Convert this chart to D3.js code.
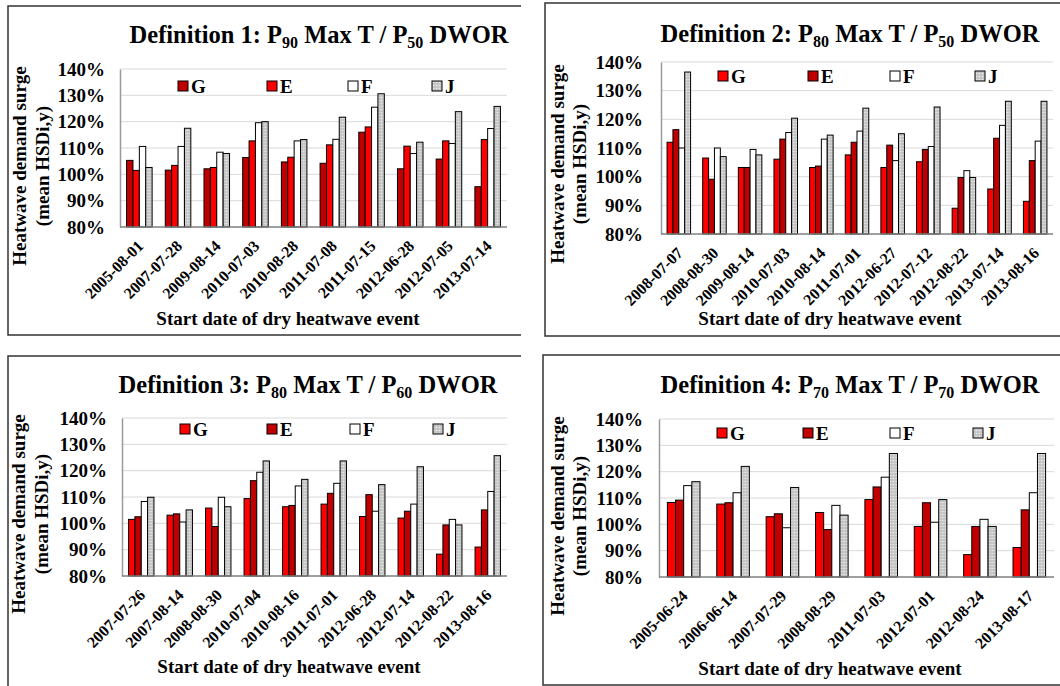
<!DOCTYPE html>
<html>
<meta charset="utf-8">
<style>
  body { margin: 0; background: #fff; }
  svg text { font-family: 'Liberation Serif', 'Times New Roman', Times, 'DejaVu Serif', serif !important; font-weight: bold; fill: #000; }
  .grid line { stroke: #d9d9d9; stroke-width: 1; }
  .bar { stroke: #000; stroke-width: 1; }
</style>
<body>
<script src="https://d3js.org/d3.v7.min.js"></script>
<script>
  // series shown in every panel
  const seriesNames = ["G", "E", "F", "J"];
  const yTicks = [0.8, 0.9, 1.0, 1.1, 1.2, 1.3, 1.4];

  // Definition 1
  const def1Dates = ["2005-08-01", "2007-07-28", "2009-08-14", "2010-07-03", "2010-08-28",
    "2011-07-08", "2011-07-15", "2012-06-28", "2012-07-05", "2013-07-14"];
  const def1G = [1.053, 1.016, 1.021, 1.064, 1.047, 1.042, 1.160, 1.021, 1.058, 0.953];
  const def1E = [1.015, 1.034, 1.026, 1.127, 1.065, 1.112, 1.180, 1.107, 1.127, 1.132];
  const def1F = [1.106, 1.106, 1.084, 1.196, 1.127, 1.133, 1.255, 1.079, 1.117, 1.174];
  const def1J = [1.026, 1.175, 1.079, 1.200, 1.132, 1.217, 1.306, 1.122, 1.238, 1.258];

  // Definition 2
  const def2Dates = ["2008-07-07", "2008-08-30", "2009-08-14", "2010-07-03", "2010-08-14",
    "2011-07-01", "2012-06-27", "2012-07-12", "2012-08-22", "2013-07-14", "2013-08-16"];
  const def2G = [1.120, 1.065, 1.032, 1.061, 1.032, 1.076, 1.032, 1.052, 0.890, 0.957, 0.914];
  const def2E = [1.164, 0.991, 1.032, 1.131, 1.037, 1.120, 1.110, 1.095, 0.997, 1.134, 1.056];
  const def2F = [1.100, 1.100, 1.095, 1.154, 1.131, 1.159, 1.056, 1.105, 1.021, 1.179, 1.124];
  const def2J = [1.365, 1.070, 1.076, 1.204, 1.145, 1.239, 1.150, 1.243, 0.997, 1.263, 1.263];

  // Definition 3
  const def3Dates = ["2007-07-26", "2007-08-14", "2008-08-30", "2010-07-04", "2010-08-16",
    "2011-07-01", "2012-06-28", "2012-07-14", "2012-08-22", "2013-08-16"];
  const def3G = [1.015, 1.031, 1.058, 1.094, 1.063, 1.073, 1.026, 1.020, 0.883, 0.910];
  const def3E = [1.025, 1.036, 0.988, 1.162, 1.068, 1.114, 1.109, 1.046, 0.994, 1.051];
  const def3F = [1.083, 1.005, 1.099, 1.194, 1.142, 1.152, 1.046, 1.073, 1.015, 1.121];
  const def3J = [1.099, 1.051, 1.063, 1.237, 1.167, 1.237, 1.147, 1.215, 0.994, 1.257];

  // Definition 4
  const def4Dates = ["2005-06-24", "2006-06-14", "2007-07-29", "2008-08-29", "2011-07-03",
    "2012-07-01", "2012-08-24", "2013-08-17"];
  const def4G = [1.083, 1.077, 1.029, 1.045, 1.094, 0.992, 0.885, 0.912];
  const def4E = [1.092, 1.082, 1.040, 0.980, 1.142, 1.082, 0.992, 1.055];
  const def4F = [1.147, 1.120, 0.987, 1.072, 1.179, 1.008, 1.019, 1.120];
  const def4J = [1.162, 1.220, 1.140, 1.035, 1.269, 1.094, 0.992, 1.269];

  const darkRed = "#c00000", red = "#ff0000";

  // layout of the four panels (pixel positions in the page)
  const panels = [
    { num: "1", p1: "90", p2: "50", dates: def1Dates, vals: [def1G, def1E, def1F, def1J],
      colors: [darkRed, red, "#fff", "url(#dots)"],
      frame: { l: 8, t: 6, r: 521, b: 335 }, plot: { l: 120, r: 507, t: 69, b: 227 },
      title: [319, 43], legendY: 86, legendX: [178, 267, 348, 432], tickRight: 105,
      yTitle: [19, 42, 166], xTitle: [288, 325] },
    { num: "2", p1: "80", p2: "50", dates: def2Dates, vals: [def2G, def2E, def2F, def2J],
      colors: [red, darkRed, "#fff", "url(#dots)"],
      frame: { l: 545, t: 3, r: 1062, b: 336 }, plot: { l: 661, r: 1053, t: 62, b: 234 },
      title: [850, 42], legendY: 76, legendX: [718, 808, 890, 975], tickRight: 643,
      yTitle: [557, 579, 164], xTitle: [830, 325] },
    { num: "3", p1: "80", p2: "60", dates: def3Dates, vals: [def3G, def3E, def3F, def3J],
      colors: [red, darkRed, "#fff", "url(#dots)"],
      frame: { l: 8, t: 356, r: 521, b: 690 }, plot: { l: 122, r: 507, t: 418, b: 576 },
      title: [308, 393], legendY: 429, legendX: [180, 267, 350, 433], tickRight: 107,
      yTitle: [18, 41, 514], xTitle: [289, 673] },
    { num: "4", p1: "70", p2: "70", dates: def4Dates, vals: [def4G, def4E, def4F, def4J],
      colors: [red, darkRed, "#fff", "url(#dots)"],
      frame: { l: 543, t: 355, r: 1062, b: 685 }, plot: { l: 659, r: 1054, t: 419, b: 577 },
      title: [850, 393], legendY: 433, legendX: [717, 803, 890, 973], tickRight: 643,
      yTitle: [557, 579, 516], xTitle: [830, 675] }
  ];

  const svg = d3.select("body").append("svg")
    .attr("width", 1060)
    .attr("height", 686);

  // dotted grey fill used by series J
  const pat = svg.append("defs").append("pattern")
    .attr("id", "dots")
    .attr("width", 3).attr("height", 3)
    .attr("patternUnits", "userSpaceOnUse");
  pat.append("rect").attr("width", 3).attr("height", 3).attr("fill", "#c4c4c4");
  pat.append("circle").attr("cx", 1.5).attr("cy", 1.5).attr("r", 0.8).attr("fill", "#eeeeee");

  panels.forEach(p => {
    const g = svg.append("g");

    // frame (right side is cut off in the original)
    g.append("path")
      .attr("d", `M${p.frame.r},${p.frame.t}H${p.frame.l}V${p.frame.b}H${p.frame.r}`)
      .attr("fill", "none")
      .attr("stroke", "#333")
      .attr("stroke-width", 1.5);

    const y = d3.scaleLinear().domain([0.8, 1.4]).range([p.plot.b, p.plot.t]);
    const x0 = d3.scaleBand().domain(p.dates).range([p.plot.l, p.plot.r])
      .paddingInner(0.34).paddingOuter(0.17);
    const x1 = d3.scaleBand().domain(seriesNames).range([0, x0.bandwidth()]);

    // gridlines
    g.append("g").attr("class", "grid")
      .selectAll("line").data(yTicks.slice(1)).join("line")
      .attr("x1", p.plot.l).attr("x2", p.plot.r)
      .attr("y1", d => y(d)).attr("y2", d => y(d));

    // y axis
    const yAxis = g.append("g")
      .attr("transform", `translate(${p.plot.l},0)`)
      .call(d3.axisLeft(y).tickValues(yTicks).tickFormat(d3.format(".0%")).tickSize(0).tickPadding(0))
      .attr("font-family", null).attr("font-size", null);
    yAxis.select(".domain").attr("stroke", "#9a9a9a").attr("stroke-width", 1.5);
    yAxis.selectAll("text")
      .attr("x", p.tickRight - p.plot.l)
      .style("font-size", "19px");

    // bars
    const groups = g.append("g").selectAll("g").data(p.dates).join("g")
      .attr("transform", d => `translate(${x0(d)},0)`);
    groups.selectAll("rect")
      .data((d, i) => seriesNames.map((s, k) => ({ s, k, v: p.vals[k][i] })))
      .join("rect")
      .attr("class", "bar")
      .attr("x", d => x1(d.s))
      .attr("width", x1.bandwidth())
      .attr("y", d => y(d.v))
      .attr("height", d => y(0.8) - y(d.v))
      .attr("fill", d => p.colors[d.k]);

    // x axis line
    g.append("line")
      .attr("x1", p.plot.l).attr("x2", p.plot.r)
      .attr("y1", p.plot.b).attr("y2", p.plot.b)
      .attr("stroke", "#7f7f7f").attr("stroke-width", 1.5);

    // rotated date labels
    g.append("g").selectAll("text").data(p.dates).join("text")
      .attr("transform", d => `translate(${x0(d) + x0.bandwidth() / 2 + 5},${p.plot.b + 20}) rotate(-45)`)
      .attr("text-anchor", "end")
      .style("font-size", "16px")
      .text(d => d);

    // legend
    seriesNames.forEach((s, k) => {
      g.append("rect")
        .attr("x", p.legendX[k]).attr("y", p.legendY - 5)
        .attr("width", 10).attr("height", 10)
        .attr("fill", p.colors[k])
        .attr("stroke", "#000").attr("stroke-width", 1);
      g.append("text")
        .attr("x", p.legendX[k] + 13).attr("y", p.legendY + 6.5)
        .style("font-size", "19px")
        .text(s);
    });

    // title with subscripts
    const t = g.append("text")
      .attr("x", p.title[0]).attr("y", p.title[1])
      .attr("text-anchor", "middle")
      .style("font-size", "24.5px");
    t.append("tspan").text(`Definition ${p.num}: P`);
    t.append("tspan").attr("dy", 5).style("font-size", "16px").text(p.p1);
    t.append("tspan").attr("dy", -5).text(" Max T / P");
    t.append("tspan").attr("dy", 5).style("font-size", "16px").text(p.p2);
    t.append("tspan").attr("dy", -5).text(" DWOR");

    // y axis title, two lines
    g.append("text")
      .attr("transform", `translate(${p.yTitle[0]},${p.yTitle[2]}) rotate(-90)`)
      .attr("text-anchor", "middle").attr("dy", "0.35em")
      .style("font-size", "19px")
      .text("Heatwave demand surge");
    g.append("text")
      .attr("transform", `translate(${p.yTitle[1]},${p.yTitle[2]}) rotate(-90)`)
      .attr("text-anchor", "middle").attr("dy", "0.35em")
      .style("font-size", "19px")
      .text("(mean HSDi,y)");

    // x axis title
    g.append("text")
      .attr("x", p.xTitle[0]).attr("y", p.xTitle[1])
      .attr("text-anchor", "middle")
      .style("font-size", "19px")
      .text("Start date of dry heatwave event");
  });
</script>
</body>
</html>
